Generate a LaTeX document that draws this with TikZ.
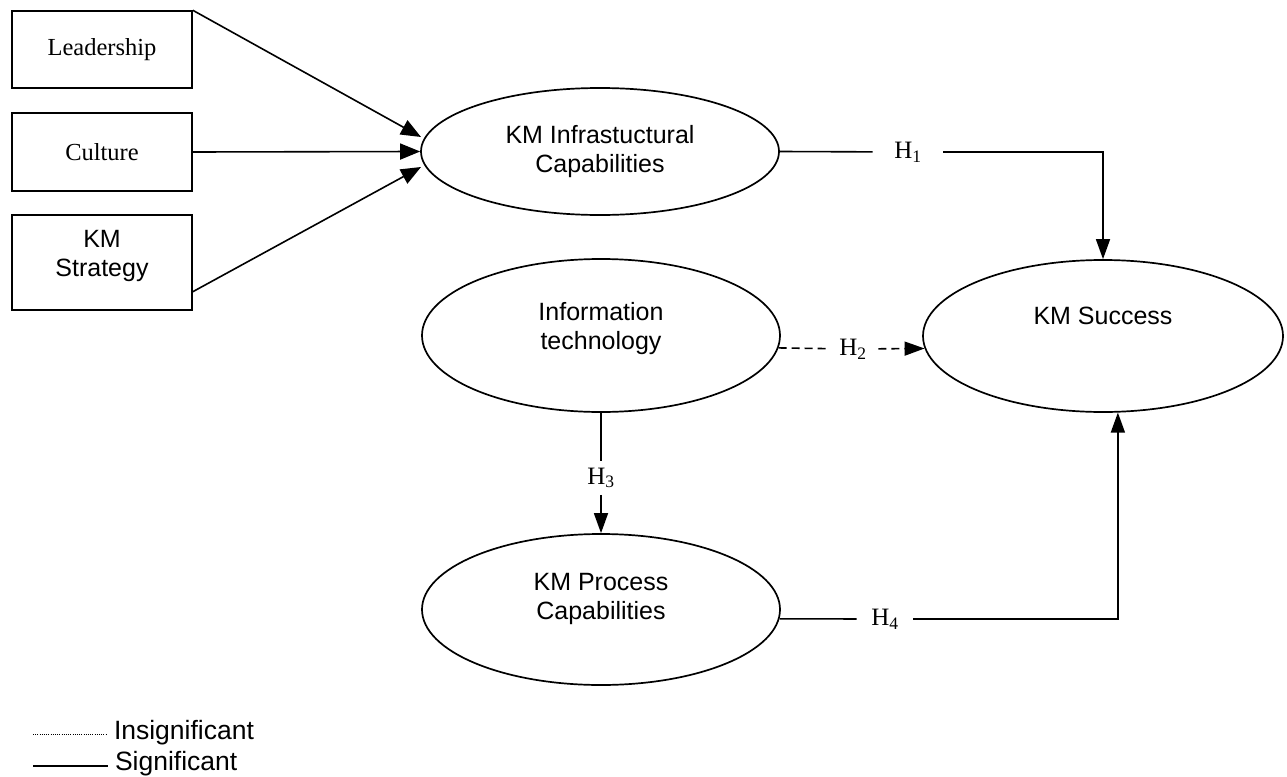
\documentclass[tikz,border=0pt]{standalone}
\usepackage{fontspec}
\setmainfont{Liberation Serif}
\newfontfamily\arial{Liberation Sans}
\usetikzlibrary{arrows.meta,shapes.geometric,calc}
\begin{document}
\begin{tikzpicture}[x=1pt,y=-1pt,
  line width=1.6pt,
  box/.style={draw,line width=1.5pt,minimum width=180pt,inner sep=0pt},
  oval/.style={draw,ellipse,line width=1.7pt,inner sep=0pt,minimum width=358pt,minimum height=#1},
  sans/.style={font=\arial\fontsize{25}{29}\selectfont,align=center},
  serif/.style={font=\fontsize{24.5}{28}\selectfont},
  hyp/.style={font=\fontsize{25}{28}\selectfont,inner ysep=2pt},
  legend/.style={font=\arial\fontsize{26.5}{30}\selectfont,anchor=west,inner xsep=0pt,outer xsep=7pt},
  bigtip/.style={-{Triangle[length=20pt,width=16pt]}},
  tip/.style={-{Triangle[length=20pt,width=14pt]}},
  dashline/.style={dash pattern=on 8pt off 5pt}]
\useasboundingbox (0,0) rectangle (1287,776);

% boxes
\node[box,minimum height=77pt,serif] (lead) at (102,49.5) {Leadership};
\node[box,minimum height=78pt,serif] (cult) at (102,152) {Culture};
\node[box,minimum height=95pt] (strat) at (102,262.5) {};
\node[sans] (strattext) at (102,256) {KM\\Strategy};

% ellipses
\node[oval=127pt] (infra) at (600,151.5) {};
\node[sans] (infratext) at (600,152) {KM Infrastuctural\\Capabilities};
\node[oval=153pt] (info) at (601,335.5) {};
\node[sans] (infotext) at (601,329) {Information\\technology};
\node[oval=151pt] (proc) at (601,609.5) {};
\node[sans] (proctext) at (601,599) {KM Process\\Capabilities};
\node[oval=152pt,minimum width=360pt] (succ) at (1103,336) {};
\node[sans] (succtext) at (1103,316) {KM Success};

% arrows into infra
\coordinate (t1) at (421,137);
\coordinate (t3) at (421,167);
\draw[bigtip] (lead.north east) -- (t1);
\draw[bigtip] (cult.east) -- (infra.west);
\draw[bigtip] ($(strat.south east)+(0,-19)$) -- (t3);

% hypothesis labels
\node[hyp,inner xsep=21pt] (h1) at (908,152) {H\textsubscript{1}};
\node[hyp,inner xsep=11pt] (h2) at (853,349) {H\textsubscript{2}};
\node[hyp,inner ysep=6pt] (h3) at (601,478) {H\textsubscript{3}};
\node[hyp,inner xsep=14pt] (h4) at (885,619) {H\textsubscript{4}};

% H1
\draw (infra.east) -- (h1);
\draw[tip] (h1) -| (succ.north);
% H2
\draw[dashline] (info.-4) -- (h2);
\draw[dashline,tip] (h2) -- (succ.184);
% H3
\draw (info.south) -- (h3);
\draw[tip] (h3) -- (proc.north);
% H4
\draw (proc.-3) -- (h4);
\draw[tip] (h4) -| (succ.-79);

% legend
\coordinate (d1) at (33,734);
\coordinate (d2) at (33,766);
\node[legend] (ins) at (107,733) {Insignificant};
\node[legend] (sig) at (108,764) {Significant};
\draw[line width=1pt,dash pattern=on 1pt off 1.2pt] (d1) -- (ins.west |- d1);
\draw[line width=1.6pt] (d2) -- (sig.west |- d2);
\end{tikzpicture}
\end{document}
